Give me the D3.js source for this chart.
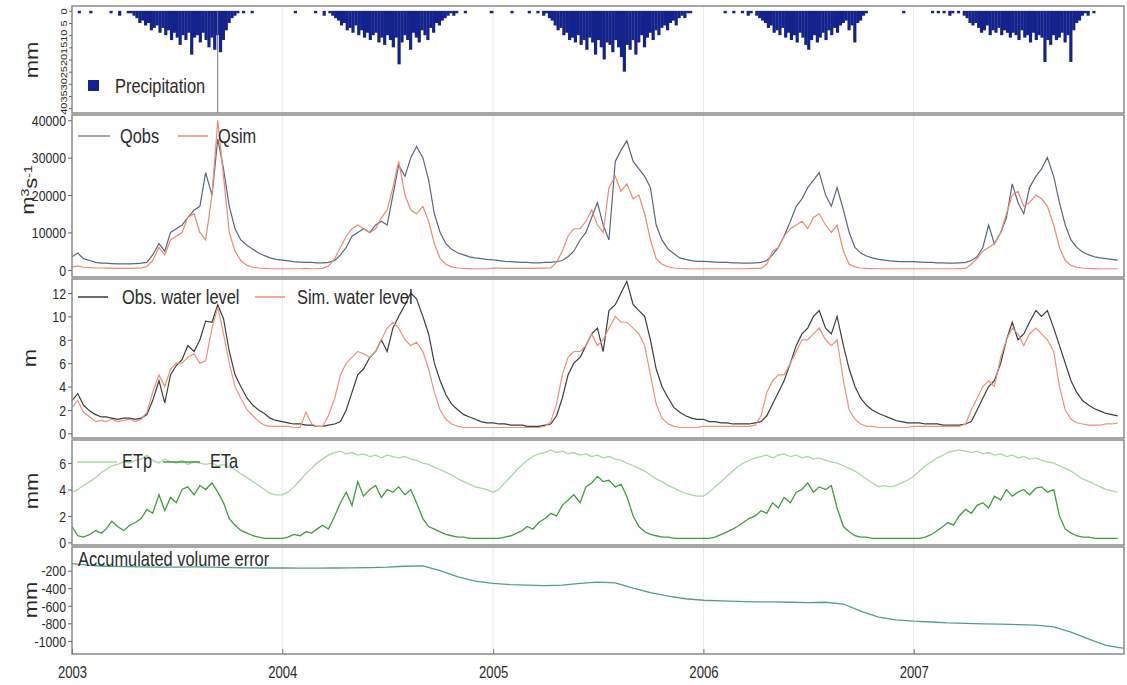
<!DOCTYPE html>
<html>
<head>
<meta charset="utf-8">
<script src="https://cdn.jsdelivr.net/npm/d3@7"></script>
<style>
  body { margin: 0; background: #fff; }
  svg text { font-family: "Liberation Sans", Arial, sans-serif; fill: #2a2a2a; }
</style>
</head>
<body>
<svg id="chart" width="1127" height="685"></svg>
<script>
// ---- data ----
const years = [2003, 2004, 2005, 2006, 2007];

// 10-day values, 36 per year (1st, 11th, 21st of each month)
const qObs = [
  3500,4500,3000,2500,2000,1800,1800,1700,1600,1600,1600,1700,1800,2000,4000,7000,5000,10000,11000,12000,14000,16000,17000,26000,20000,35000,27000,17000,11000,8000,6500,5500,4500,3800,3200,2800,
  2600,2400,2200,2100,2000,2000,1900,1900,2000,2500,4000,6000,9000,10000,11000,10000,12000,13000,12000,20000,28000,25000,30000,33000,30000,24000,15000,10000,7000,5500,4500,4000,3500,3200,3000,2800,
  2700,2500,2300,2200,2100,2000,2000,1900,1900,2000,2000,2200,2500,3500,5000,8000,10000,14000,18000,12000,8000,29000,32000,34500,29000,27000,25000,22000,12000,8000,5500,4300,3200,2800,2500,2300,
  2300,2200,2100,2000,2000,1900,1900,1800,1800,1900,2000,2500,4000,6000,9000,13000,17000,19000,22000,24000,26000,20000,17000,22000,16000,10000,6000,4500,3700,3200,2800,2600,2400,2300,2200,2200,
  2200,2100,2000,2000,1900,1900,1800,1800,1900,2000,2500,3500,6000,12000,7000,10000,14000,23000,18000,15000,22000,25000,27000,30000,25000,18000,12000,8000,6000,4800,4000,3500,3200,3000,2800,2600
];
const qSim = [
  800,1000,700,600,500,500,450,450,400,400,400,450,500,900,2500,6000,4000,8000,9000,10000,14000,15000,10000,8000,20000,40000,25000,10000,5000,2500,1200,700,500,400,300,300,
  300,300,300,300,400,300,300,400,1000,3000,6000,9000,11000,12000,11000,10000,11000,14000,16000,22000,29000,20000,16000,15000,17000,13000,7000,3000,1500,800,500,400,350,300,300,300,
  500,450,400,400,400,400,400,400,450,450,500,2000,5000,9000,11000,11000,13000,16000,12000,10000,22000,25000,21000,23000,19000,20000,15000,8000,3000,1500,800,500,400,350,300,300,
  300,300,300,300,300,300,300,300,350,400,400,1500,5000,6000,9000,11000,12000,13000,11000,14000,15000,12000,10000,12000,5000,1500,800,500,400,350,300,300,300,300,300,300,
  300,300,300,300,300,300,300,300,350,400,1500,3000,5000,6000,7000,10000,15000,20000,21000,17000,18000,20000,19000,17000,12000,6000,2500,1200,700,500,400,350,300,300,300,300
];
const wlObs = [
  2.8,3.4,2.4,1.9,1.6,1.4,1.4,1.3,1.2,1.3,1.3,1.2,1.3,1.6,2.8,4.5,2.6,5.0,5.8,6.3,7.5,7.0,8.0,9.6,9.5,11.0,9.8,7.0,5.0,4.0,3.0,2.4,2.0,1.7,1.3,1.1,
  1.0,0.9,0.8,0.8,0.7,0.7,0.6,0.6,0.7,0.8,1.0,2.0,3.5,5.0,5.5,6.5,7.0,8.0,7.0,9.0,10.0,11.0,12.0,11.5,10.0,8.5,6.0,4.5,3.3,2.5,2.0,1.6,1.4,1.2,1.0,0.9,
  0.9,0.8,0.8,0.7,0.7,0.7,0.6,0.6,0.6,0.7,0.8,1.5,3.0,5.0,6.0,6.5,7.5,8.5,9.0,7.0,10.5,11.0,12.0,13.0,11.0,10.5,10.0,8.0,5.5,4.0,3.0,2.2,1.8,1.5,1.3,1.2,
  1.2,1.0,1.0,0.9,0.9,0.8,0.8,0.8,0.8,0.9,1.0,1.5,2.5,3.5,4.5,6.0,7.5,8.5,9.0,10.0,10.5,9.0,8.5,10.0,7.5,5.5,4.0,3.0,2.4,2.0,1.7,1.5,1.3,1.1,1.0,0.9,
  0.9,0.9,0.8,0.8,0.8,0.7,0.7,0.7,0.7,0.8,1.0,2.0,3.0,4.0,4.5,6.0,8.0,9.5,8.0,8.5,9.5,10.5,10.0,10.5,9.0,7.5,6.0,4.5,3.5,2.8,2.4,2.1,1.9,1.7,1.6,1.5
];
const wlSim = [
  2.2,2.8,1.8,1.4,1.0,1.1,1.0,1.2,1.0,1.1,1.2,1.0,1.2,1.8,3.5,5.0,4.0,5.5,6.0,6.0,6.5,6.8,6.0,6.2,9.0,10.8,8.5,6.0,4.0,3.0,2.0,1.5,1.0,0.7,0.6,0.6,
  0.6,0.6,0.5,0.5,1.8,0.8,0.6,0.6,1.5,3.0,5.0,6.0,6.5,7.0,6.8,6.5,7.0,8.0,9.0,9.5,9.0,8.0,7.5,7.8,7.0,5.5,3.5,2.0,1.2,0.8,0.6,0.5,0.5,0.5,0.5,0.5,
  0.5,0.5,0.5,0.5,0.5,0.5,0.5,0.5,0.5,0.6,1.0,2.5,5.0,6.5,7.0,7.0,7.5,8.5,7.5,8.0,9.0,10.0,9.5,9.5,9.0,8.5,7.5,5.0,2.5,1.3,0.8,0.6,0.5,0.5,0.5,0.5,
  0.6,0.6,0.6,0.6,0.6,0.6,0.6,0.6,0.6,0.7,1.5,3.5,4.5,5.0,5.0,6.0,7.0,8.0,8.0,8.5,9.0,8.0,7.5,8.0,4.5,2.0,1.2,0.8,0.6,0.6,0.5,0.5,0.5,0.5,0.5,0.5,
  0.6,0.6,0.6,0.6,0.6,0.6,0.6,0.6,0.6,0.8,2.0,3.0,4.0,4.5,4.0,6.5,8.0,9.0,8.5,7.5,8.5,9.0,8.5,8.0,7.0,4.0,2.0,1.2,0.9,0.8,0.7,0.7,0.7,0.8,0.8,0.9
];
const etP = [
  3.8,4.0,4.3,4.6,4.9,5.3,5.5,5.8,5.9,6.1,6.0,6.2,6.3,6.6,6.2,6.0,6.3,6.1,6.0,6.2,5.9,6.1,6.0,5.9,6.0,5.8,5.9,5.7,5.5,5.2,4.9,4.6,4.3,4.0,3.7,3.6,
  3.6,3.8,4.2,4.7,5.2,5.6,6.0,6.3,6.6,6.8,6.9,6.7,6.8,6.6,6.7,6.5,6.6,6.4,6.6,6.5,6.4,6.5,6.3,6.2,6.0,5.9,5.7,5.5,5.3,5.1,4.8,4.6,4.4,4.2,4.1,4.0,
  3.8,4.0,4.5,5.0,5.5,5.9,6.2,6.5,6.7,6.8,7.0,6.8,6.9,6.7,6.8,6.6,6.7,6.5,6.6,6.4,6.5,6.3,6.2,6.0,5.8,5.6,5.4,5.1,4.8,4.6,4.3,4.1,3.9,3.7,3.6,3.5,
  3.5,3.8,4.2,4.6,5.0,5.4,5.7,6.0,6.2,6.4,6.5,6.6,6.4,6.6,6.7,6.5,6.6,6.4,6.5,6.3,6.4,6.2,6.1,6.0,5.8,5.6,5.4,5.1,4.8,4.5,4.2,4.3,4.2,4.3,4.5,4.7,
  5.0,5.4,5.8,6.1,6.4,6.6,6.8,6.9,7.0,6.9,6.8,6.9,6.7,6.8,6.6,6.7,6.5,6.6,6.4,6.5,6.3,6.4,6.2,6.1,6.0,5.8,5.6,5.4,5.1,4.8,4.6,4.4,4.2,4.0,3.9,3.8
];
const etA = [
  1.2,0.5,0.4,0.6,0.9,0.7,1.0,1.6,1.2,0.9,1.3,1.5,1.8,2.5,2.2,3.6,2.4,3.4,3.0,4.0,4.2,3.6,4.3,4.0,4.5,3.8,3.0,1.8,1.3,0.9,0.7,0.5,0.4,0.3,0.3,0.3,
  0.3,0.4,0.6,0.5,0.8,0.7,1.0,1.3,1.0,2.0,3.0,3.8,2.8,4.6,3.5,4.0,4.3,3.4,4.0,3.8,4.2,3.6,4.0,3.0,1.8,1.2,1.0,0.8,0.6,0.5,0.4,0.4,0.3,0.3,0.3,0.3,
  0.3,0.3,0.4,0.5,0.7,0.9,1.2,1.0,1.5,1.8,2.2,2.0,2.8,3.2,3.6,3.0,4.2,4.5,5.0,4.6,4.7,4.2,4.4,3.5,2.0,1.2,0.8,0.6,0.5,0.4,0.4,0.3,0.3,0.3,0.3,0.3,
  0.3,0.3,0.4,0.6,0.8,1.0,1.2,1.5,1.8,2.0,2.4,2.2,3.0,2.6,3.4,3.0,3.8,4.0,4.5,3.8,4.2,4.0,4.3,2.6,1.2,0.8,0.5,0.4,0.4,0.3,0.3,0.3,0.3,0.3,0.3,0.3,
  0.3,0.3,0.4,0.6,0.9,1.2,1.5,1.3,2.0,2.5,2.2,2.8,3.0,2.6,3.5,3.2,4.0,3.5,3.8,4.0,3.6,4.1,4.2,3.8,4.0,2.0,1.0,0.7,0.5,0.4,0.4,0.3,0.3,0.3,0.3,0.3
];

// 5-day precipitation (mm), 73 per year
const precip = [
  0,0,1,0,0,0,1,0,0,0, 0,0,0,1,0,0,2,0,0,1, 1,2,3,5,4,6,5,8,7,6, 9,7,10,8,12,9,11,14,10,12, 9,18,11,10,13,9,12,15,11,16, 10,17,12,8,5,3,2,1,0,1, 0,0,1,0,0,0,0,0,0,0, 0,0,0,
  0,0,0,0,1,0,0,0,0,0, 0,1,0,0,2,0,1,2,3,4, 6,5,8,7,9,6,10,8,11,9, 12,10,9,13,11,14,10,12,15,11, 22,13,10,12,16,9,11,13,8,10, 12,7,9,5,6,4,3,2,1,2, 1,0,0,1,0,0,0,0,0,0, 0,0,1,
  0,0,0,0,0,0,1,0,0,0, 0,0,1,0,0,1,0,2,1,3, 4,6,8,7,10,9,12,11,13,10, 14,12,16,11,13,18,12,15,20,13, 14,17,12,15,19,25,14,16,12,18, 13,10,15,11,9,12,8,10,7,6, 8,5,4,6,3,2,3,1,1,0, 0,0,0,
  0,0,0,0,0,0,0,1,0,0, 1,0,0,1,0,2,1,0,2,3, 4,5,7,6,9,8,10,7,11,9, 12,10,13,9,11,14,16,12,10,13, 11,9,12,8,10,7,9,6,5,4, 8,6,13,5,4,2,1,0,0,0, 0,0,0,0,0,0,0,0,0,1, 0,0,0,
  0,0,0,0,0,0,1,0,1,0, 1,0,2,1,0,1,0,2,3,5, 6,5,7,9,8,6,10,8,9,7, 10,8,9,11,9,10,12,8,11,10, 13,9,12,10,11,21,12,14,10,12, 11,9,13,10,21,8,5,4,2,1, 2,0,1,0,0,0,0,0,0,0, 0,0,0
];
// single off-scale rain day
const precipPeakDays = ["2003-09-10"];
const precipPeakMm = [44];

// accumulated volume error (mm), first of each month, then 1 Jan 2008
const accErr = [
  -120,-140,-150,-155,-158,-160,-160,-158,-160,-165,-168,-170,
  -170,-172,-172,-170,-168,-165,-160,-150,-145,-200,-270,-320,
  -345,-360,-365,-370,-365,-345,-330,-340,-400,-450,-490,-520,
  -537,-545,-550,-555,-555,-560,-565,-560,-580,-660,-730,-760,
  -775,-785,-795,-800,-805,-810,-815,-820,-840,-900,-980,-1050,
  -1085
];

const precipTicks = [0, 5, 10, 15, 20, 25, 30, 35, 40];
const qTicks = [0, 10000, 20000, 30000, 40000];
const wlTicks = [0, 2, 4, 6, 8, 10, 12];
const etTicks = [0, 2, 4, 6];
const accTicks = [-1000, -800, -600, -400, -200];

// ---- dates ----
function dekDate(k) {
  return new Date(years[0] + Math.floor(k / 36), Math.floor((k % 36) / 3), 1 + (k % 3) * 10);
}
function pentadDate(k) {
  return new Date(years[0] + Math.floor(k / 73), 0, 1 + (k % 73) * 5);
}
function monthDate(k) {
  return new Date(years[0] + Math.floor(k / 12), k % 12, 1);
}

// ---- layout ----
const left = 72, right = 1124;
const panels = {
  p1: { top: 6, bottom: 113 },
  p2: { top: 115, bottom: 277 },
  p3: { top: 279, bottom: 438 },
  p4: { top: 440, bottom: 545 },
  p5: { top: 547, bottom: 654 }
};
const SQ = 0.82; // the figure is squeezed sideways
const plain = d => String(d); // hyphen minus like the original

const svg = d3.select("#chart");
const x = d3.scaleTime()
  .domain([new Date(2003, 0, 1), new Date(2008, 0, 1)])
  .range([left, right]);

const yP = d3.scaleLinear().domain([-2, 42]).range([panels.p1.top, panels.p1.bottom]);
const yQ = d3.scaleLinear().domain([-1900, 41400]).range([panels.p2.bottom, panels.p2.top]);
const yW = d3.scaleLinear().domain([-0.4, 13.2]).range([panels.p3.bottom, panels.p3.top]);
const yE = d3.scaleLinear().domain([-0.2, 7.75]).range([panels.p4.bottom, panels.p4.top]);
const yA = d3.scaleLinear().domain([-1149, 69]).range([panels.p5.bottom, panels.p5.top]);

const yearStarts = years.slice(1).map(y => new Date(y, 0, 1));

function makePanel(key) {
  const p = panels[key];
  const g = svg.append("g");
  g.append("clipPath").attr("id", "clip-" + key)
    .append("rect").attr("x", left).attr("y", p.top)
    .attr("width", right - left).attr("height", p.bottom - p.top);
  // faint year lines
  g.selectAll("line.grid").data(yearStarts).join("line")
    .attr("x1", d => x(d)).attr("x2", d => x(d))
    .attr("y1", p.top).attr("y2", p.bottom)
    .attr("stroke", "#e8e8e8").attr("stroke-width", 1);
  const body = g.append("g").attr("clip-path", `url(#clip-${key})`);
  return { g, body, p };
}

function frame(P) {
  P.g.append("rect")
    .attr("x", left).attr("y", P.p.top)
    .attr("width", right - left).attr("height", P.p.bottom - P.p.top)
    .attr("fill", "none").attr("stroke", "#8a8a8a").attr("stroke-width", 1.5);
}

function yAxis(P, scale, ticks) {
  const a = P.g.append("g").attr("transform", `translate(${left},0)`)
    .call(d3.axisLeft(scale).tickValues(ticks).tickSize(4).tickPadding(3).tickFormat(plain));
  a.select(".domain").remove();
  a.selectAll("line").attr("stroke", "#666");
  a.selectAll("text")
    .attr("x", null).attr("dy", "0.35em")
    .attr("transform", `translate(-6,0) scale(${SQ},1)`)
    .style("font-size", "15px").attr("fill", "#333");
  return a;
}

function axisTitle(cx, cy, parts) {
  const t = svg.append("text")
    .attr("transform", `translate(${cx},${cy}) scale(${SQ},1) rotate(-90)`)
    .attr("text-anchor", "middle").style("font-size", "22px");
  parts.forEach(pt => {
    t.append("tspan").attr("dy", pt.dy || 0).style("font-size", pt.size || null).text(pt.t);
  });
}

function legendText(g, tx, ty, str) {
  g.append("text").attr("transform", `translate(${tx},${ty}) scale(${SQ},1)`)
    .style("font-size", "20px").text(str);
}

function legendLine(g, x1, x2, ly, color) {
  g.append("line").attr("x1", x1).attr("x2", x2).attr("y1", ly).attr("y2", ly)
    .attr("stroke", color).attr("stroke-width", 1.5);
}

const dekLine = yScale => d3.line().x((d, i) => x(dekDate(i))).y(d => yScale(d));

const cPrecip = "#14238c", cQobs = "#5b6781", cQsim = "#ee8a70",
      cWobs = "#3d3d3d", cWsim = "#f0917c", cEtp = "#a8d8a4", cEta = "#3f9e3f",
      cAcc = "#4f9e8f";

// ---- panel 1: precipitation ----
const P1 = makePanel("p1");
P1.body.selectAll("rect.bar").data(precip).join("rect")
  .attr("x", (d, i) => x(pentadDate(i)))
  .attr("width", (d, i) => x(pentadDate(i + 1)) - x(pentadDate(i)) + 0.3)
  .attr("y", yP(0))
  .attr("height", d => yP(d) - yP(0))
  .attr("fill", cPrecip);
P1.body.selectAll("rect.peak").data(precipPeakDays).join("rect")
  .attr("x", d => x(new Date(d)))
  .attr("width", 1)
  .attr("y", yP(0))
  .attr("height", (d, i) => yP(precipPeakMm[i]) - yP(0))
  .attr("fill", "#6b6f8a");
frame(P1);
{
  const a = P1.g.append("g").attr("transform", `translate(${left},0)`)
    .call(d3.axisLeft(yP).tickValues(precipTicks).tickSize(3).tickPadding(2));
  a.select(".domain").remove();
  a.selectAll("line").attr("stroke", "#666");
  a.selectAll("text")
    .attr("x", 0).attr("y", 0).attr("dy", 0)
    .attr("text-anchor", "middle")
    .attr("transform", `translate(-5,0) scale(${SQ},1) rotate(-90)`)
    .style("font-size", "11px").attr("fill", "#333");
}
P1.g.append("rect").attr("x", 88).attr("y", 80).attr("width", 11).attr("height", 11).attr("fill", cPrecip);
legendText(P1.g, 115, 93, "Precipitation");
axisTitle(38, 60, [{ t: "mm" }]);

// ---- panel 2: discharge ----
const P2 = makePanel("p2");
P2.body.append("path").datum(qObs).attr("d", dekLine(yQ))
  .attr("fill", "none").attr("stroke", cQobs).attr("stroke-width", 1.2);
P2.body.append("path").datum(qSim).attr("d", dekLine(yQ))
  .attr("fill", "none").attr("stroke", cQsim).attr("stroke-width", 1.2);
frame(P2);
yAxis(P2, yQ, qTicks);
legendLine(P2.g, 78, 110, 136, "#8a8a8a");
legendText(P2.g, 120, 143, "Qobs");
legendLine(P2.g, 178, 208, 136, cQsim);
legendText(P2.g, 218, 143, "Qsim");
axisTitle(34, 190, [{ t: "m" }, { t: "3", dy: "-0.45em", size: "14px" }, { t: "s", dy: "0.45em" }, { t: "-1", dy: "-0.45em", size: "14px" }]);

// ---- panel 3: water level ----
const P3 = makePanel("p3");
P3.body.append("path").datum(wlObs).attr("d", dekLine(yW))
  .attr("fill", "none").attr("stroke", cWobs).attr("stroke-width", 1.2);
P3.body.append("path").datum(wlSim).attr("d", dekLine(yW))
  .attr("fill", "none").attr("stroke", cWsim).attr("stroke-width", 1.2);
frame(P3);
yAxis(P3, yW, wlTicks);
legendLine(P3.g, 78, 108, 297, cWobs);
legendText(P3.g, 122, 304, "Obs. water level");
legendLine(P3.g, 255, 285, 297, cWsim);
legendText(P3.g, 297, 304, "Sim. water level");
axisTitle(36, 358, [{ t: "m" }]);

// ---- panel 4: evapotranspiration ----
const P4 = makePanel("p4");
P4.body.append("path").datum(etP).attr("d", dekLine(yE))
  .attr("fill", "none").attr("stroke", cEtp).attr("stroke-width", 1.3);
P4.body.append("path").datum(etA).attr("d", dekLine(yE))
  .attr("fill", "none").attr("stroke", cEta).attr("stroke-width", 1.3);
frame(P4);
yAxis(P4, yE, etTicks);
legendLine(P4.g, 77, 117, 462, cEtp);
legendText(P4.g, 122, 468, "ETp");
legendLine(P4.g, 163, 200, 462, cEta);
legendText(P4.g, 210, 468, "ETa");
axisTitle(38, 491, [{ t: "mm" }]);

// ---- panel 5: accumulated volume error ----
const P5 = makePanel("p5");
P5.body.append("path").datum(accErr)
  .attr("d", d3.line().x((d, i) => x(i < 60 ? monthDate(i) : new Date(2008, 0, 1))).y(d => yA(d)))
  .attr("fill", "none").attr("stroke", cAcc).attr("stroke-width", 1.3);
frame(P5);
yAxis(P5, yA, accTicks);
legendText(P5.g, 78, 566, "Accumulated volume error");
axisTitle(37, 600, [{ t: "mm" }]);

// ---- x axis ----
{
  const a = svg.append("g").attr("transform", `translate(0,${panels.p5.bottom})`)
    .call(d3.axisBottom(x).tickValues(years.map(y => new Date(y, 0, 1)))
      .tickFormat(d3.timeFormat("%Y")).tickSize(-5).tickPadding(13));
  a.select(".domain").remove();
  a.selectAll("line").attr("stroke", "#777");
  a.selectAll("text")
    .attr("transform", `scale(${SQ},1)`)
    .style("font-size", "16px").attr("fill", "#333");
}
</script>
</body>
</html>
